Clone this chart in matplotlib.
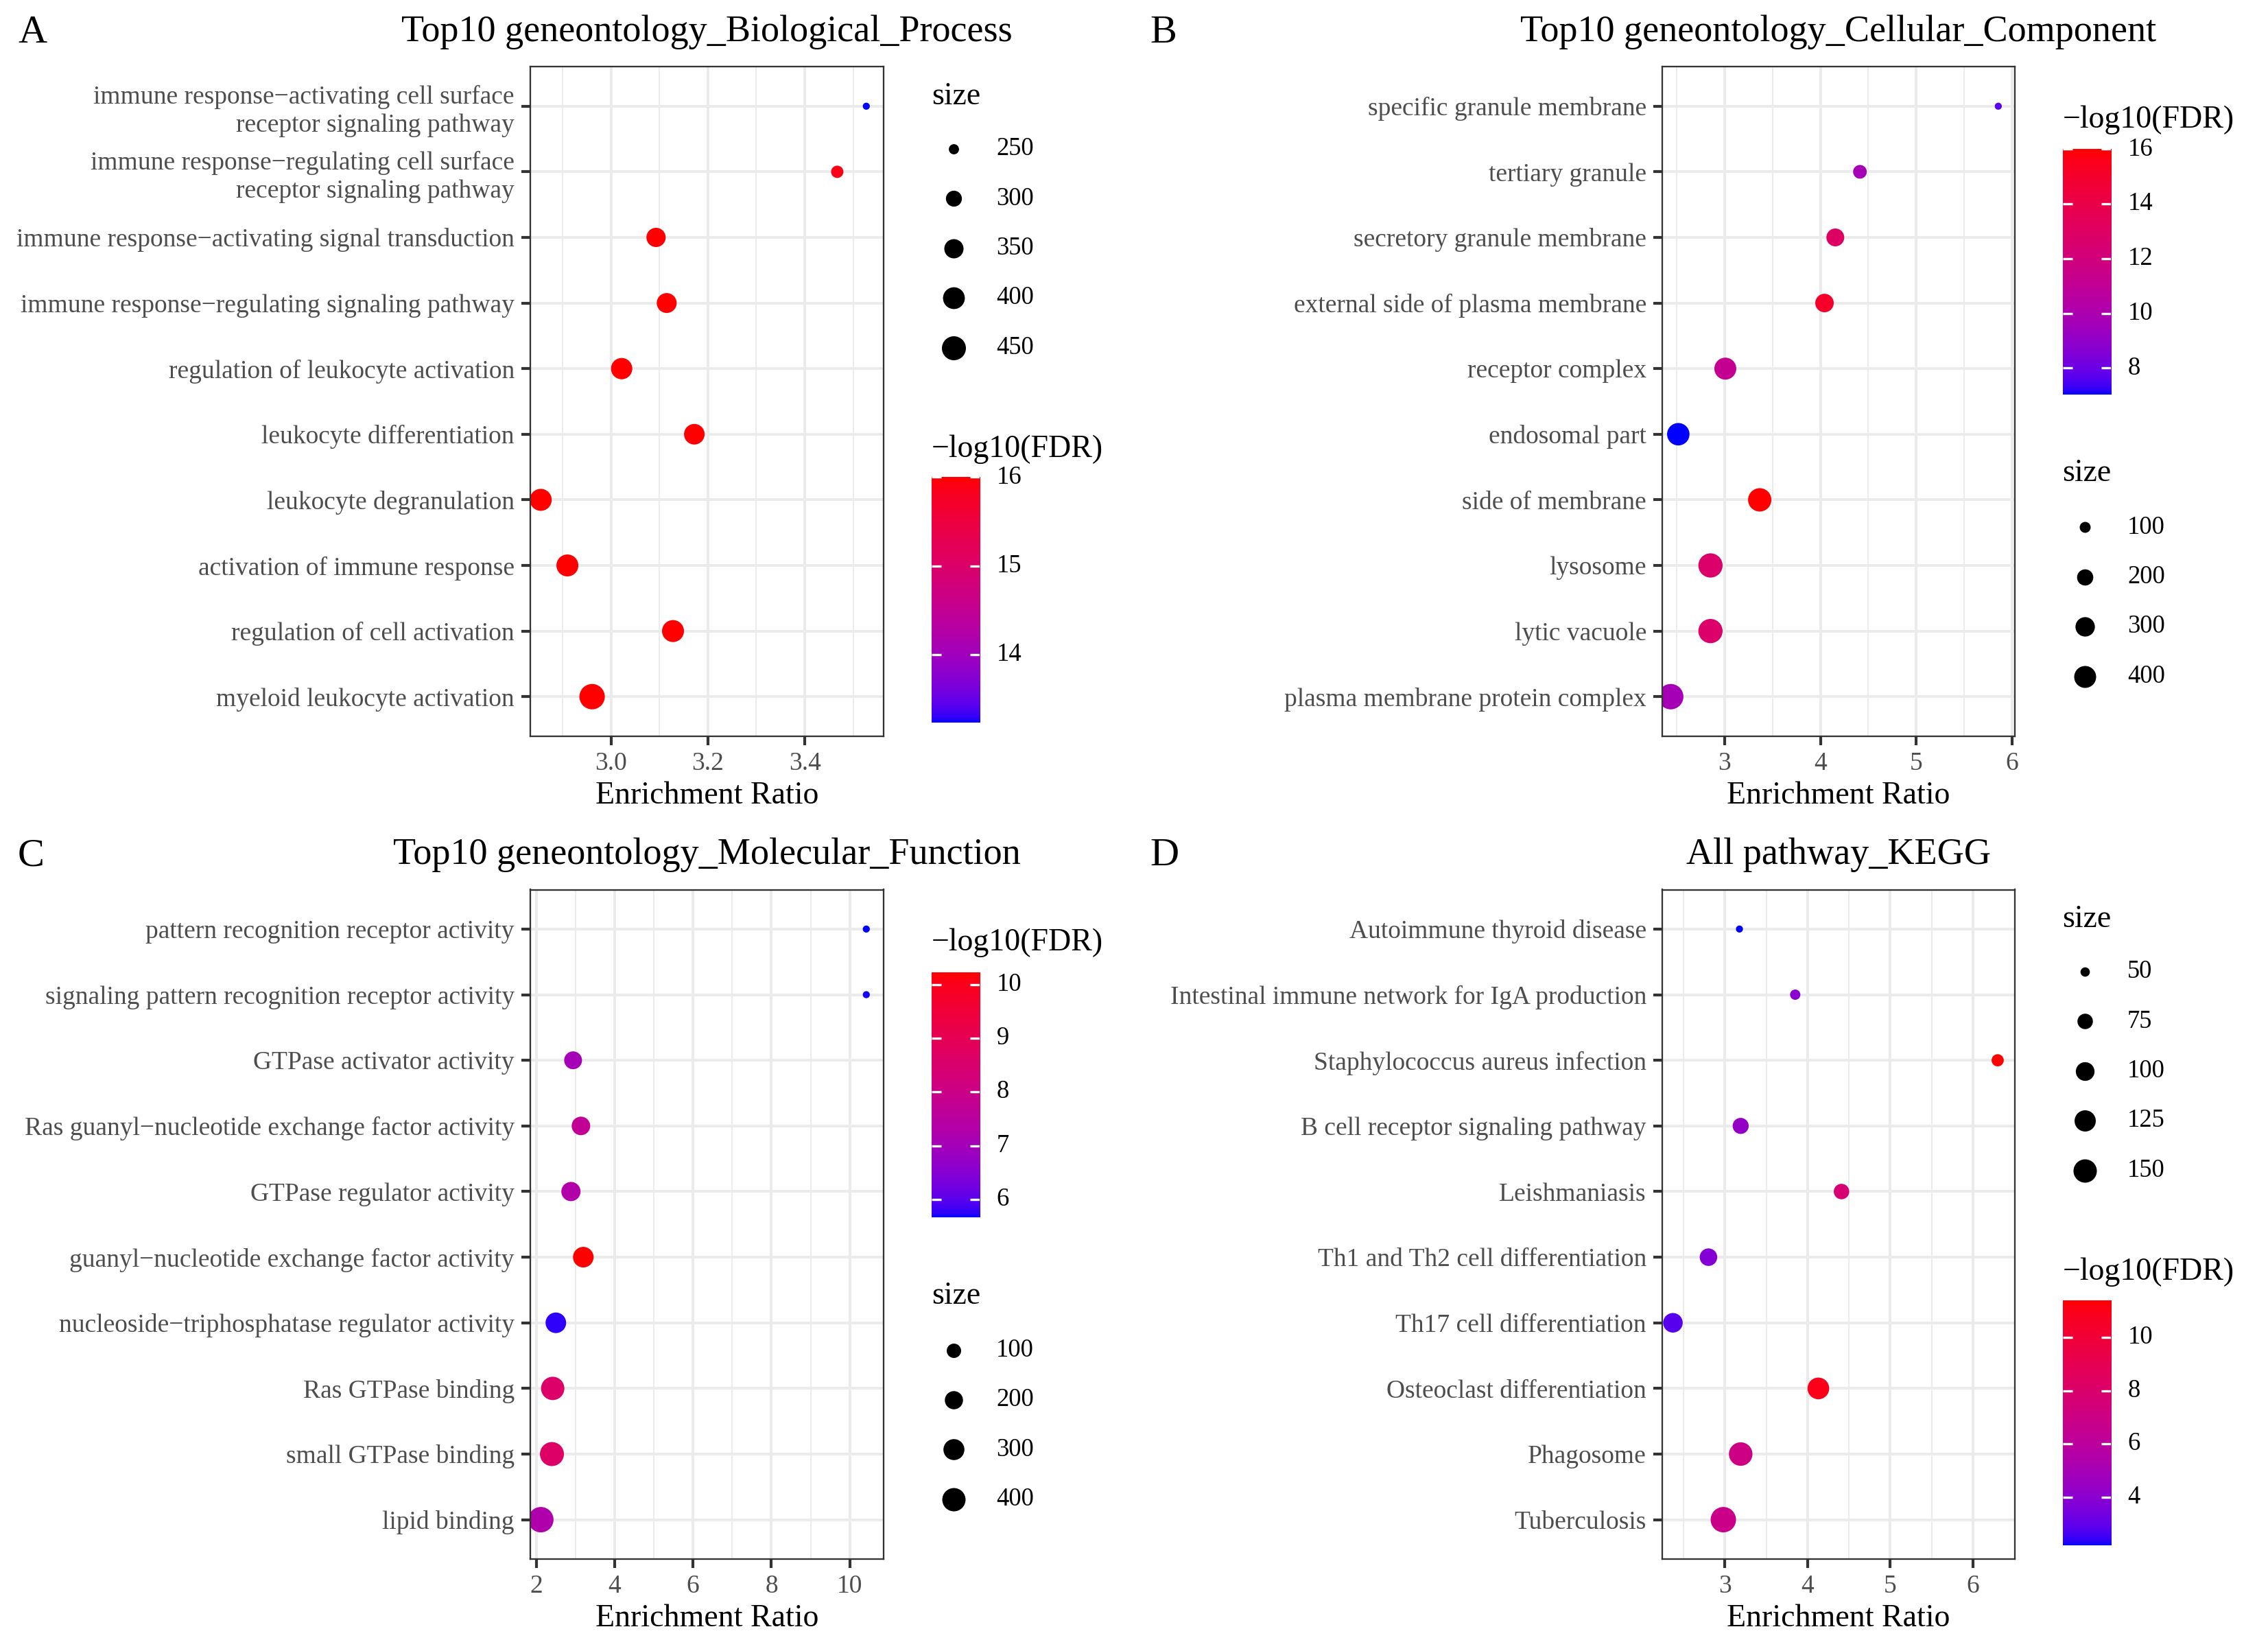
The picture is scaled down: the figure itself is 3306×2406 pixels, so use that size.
import numpy as np
import matplotlib
matplotlib.use("Agg")
import matplotlib.pyplot as plt
from matplotlib.lines import Line2D

plt.rcParams['font.family'] = ['Liberation Serif', 'DejaVu Serif']

# ---------------- data ----------------
terms_A = ["immune response\u2212activating cell surface\nreceptor signaling pathway",
           "immune response\u2212regulating cell surface\nreceptor signaling pathway",
           "immune response\u2212activating signal transduction",
           "immune response\u2212regulating signaling pathway",
           "regulation of leukocyte activation",
           "leukocyte differentiation",
           "leukocyte degranulation",
           "activation of immune response",
           "regulation of cell activation",
           "myeloid leukocyte activation"]
ratio_A = [3.527, 3.467, 3.093, 3.115, 3.022, 3.172, 2.855, 2.910, 3.128, 2.961]
size_A = [243, 263, 350, 362, 389, 375, 403, 403, 403, 485]
fdr_A = [13.23, 15.9, 16.0, 16.0, 16.0, 16.0, 16.0, 16.0, 16.0, 16.0]

terms_B = ["specific granule membrane", "tertiary granule", "secretory granule membrane",
           "external side of plasma membrane", "receptor complex", "endosomal part",
           "side of membrane", "lysosome", "lytic vacuole", "plasma membrane protein complex"]
ratio_B = [5.857, 4.413, 4.156, 4.043, 3.008, 2.517, 3.367, 2.853, 2.853, 2.438]
size_B = [78, 142, 247, 268, 400, 421, 463, 506, 506, 566]
fdr_B = [7.7, 9.7, 13.0, 15.1, 11.2, 7.02, 16.0, 12.7, 12.7, 9.7]

terms_C = ["pattern recognition receptor activity",
           "signaling pattern recognition receptor activity",
           "GTPase activator activity",
           "Ras guanyl\u2212nucleotide exchange factor activity",
           "GTPase regulator activity",
           "guanyl\u2212nucleotide exchange factor activity",
           "nucleoside\u2212triphosphatase regulator activity",
           "Ras GTPase binding",
           "small GTPase binding",
           "lipid binding"]
ratio_C = [10.42, 10.42, 2.94, 3.14, 2.885, 3.20, 2.50, 2.42, 2.40, 2.117]
size_C = [24, 24, 189, 211, 234, 284, 284, 400, 433, 502]
fdr_C = [5.66, 5.68, 7.0, 7.7, 7.3, 10.23, 5.75, 8.6, 8.65, 7.26]

terms_D = ["Autoimmune thyroid disease", "Intestinal immune network for IgA production",
           "Staphylococcus aureus infection", "B cell receptor signaling pathway",
           "Leishmaniasis", "Th1 and Th2 cell differentiation", "Th17 cell differentiation",
           "Osteoclast differentiation", "Phagosome", "Tuberculosis"]
ratio_D = [3.175, 3.85, 6.30, 3.19, 4.41, 2.80, 2.37, 4.13, 3.19, 2.98]
size_D = [48, 52, 58, 79, 75, 90, 108, 130, 152, 177]
fdr_D = [2.18, 4.0, 11.40, 4.3, 7.7, 3.8, 2.8, 11.0, 7.0, 6.8]

titles = ["Top10 geneontology_Biological_Process", "Top10 geneontology_Cellular_Component",
          "Top10 geneontology_Molecular_Function", "All pathway_KEGG"]
letters = ["A", "B", "C", "D"]

xticks_A = [3.0, 3.2, 3.4]; xtlab_A = ["3.0", "3.2", "3.4"]; minor_A = [2.9, 3.1, 3.3, 3.5]
xticks_B = [3, 4, 5, 6]; xtlab_B = ["3", "4", "5", "6"]; minor_B = [2.5, 3.5, 4.5, 5.5]
xticks_C = [2, 4, 6, 8, 10]; xtlab_C = ["2", "4", "6", "8", "10"]; minor_C = [3, 5, 7, 9]
xticks_D = [3, 4, 5, 6]; xtlab_D = ["3", "4", "5", "6"]; minor_D = [2.5, 3.5, 4.5, 5.5]

cbticks_A = [14, 15, 16]
cbticks_B = [8, 10, 12, 14, 16]
cbticks_C = [6, 7, 8, 9, 10]
cbticks_D = [4, 6, 8, 10]

sbreaks_A = [250, 300, 350, 400, 450]
sbreaks_B = [100, 200, 300, 400]
sbreaks_C = [100, 200, 300, 400]
sbreaks_D = [50, 75, 100, 125, 150]

# ---------------- helpers ----------------
W, H = 3306, 2406
DPI = 300
fig = plt.figure(figsize=(W / DPI, H / DPI), dpi=DPI)
fig.patch.set_facecolor('white')


def _lin(c):
    c = np.asarray(c, float)
    return np.where(c <= 0.04045, c / 12.92, ((c + 0.055) / 1.055) ** 2.4)


def _gam(c):
    c = np.clip(c, 0, 1)
    return np.where(c <= 0.0031308, 12.92 * c, 1.055 * np.power(c, 1 / 2.4) - 0.055)


_M = np.array([[0.4124564, 0.3575761, 0.1804375],
               [0.2126729, 0.7151522, 0.0721750],
               [0.0193339, 0.1191920, 0.9503041]])
_WP = np.array([0.95047, 1.0, 1.08883])
_d = 6 / 29


def _f(t):
    return np.where(t > _d ** 3, np.cbrt(t), t / (3 * _d ** 2) + 4 / 29)


def _finv(t):
    return np.where(t > _d, t ** 3, 3 * _d ** 2 * (t - 4 / 29))


def rgb2lab(rgb):
    xyz = _M @ _lin(rgb) / _WP
    fx, fy, fz = _f(xyz)
    return np.array([116 * fy - 16, 500 * (fx - fy), 200 * (fy - fz)])


def lab2rgb(lab):
    L, a, b = lab
    fy = (L + 16) / 116
    fx = fy + a / 500
    fz = fy - b / 200
    xyz = np.array([_finv(fx), _finv(fy), _finv(fz)]) * _WP[:, None]
    rgb = np.linalg.inv(_M) @ xyz
    return _gam(rgb).T


LAB_LO = rgb2lab([0, 0, 1])
LAB_HI = rgb2lab([1, 0, 0])


def ramp(t):
    t = np.clip(np.asarray(t, float), 0, 1)
    lab = LAB_LO[:, None] * (1 - t)[None, :] + LAB_HI[:, None] * t[None, :]
    return lab2rgb(lab)


PX2PT = 72.0 / DPI


def diam_pt(v, vmin, vmax):
    v = np.asarray(v, float)
    t = np.clip((v - vmin) / (vmax - vmin), 0, 1)
    return (10.3 + 26.7 * np.sqrt(t)) * PX2PT


xlims = {"A": (2.833, 3.563), "B": (2.348, 6.03), "C": (1.843, 10.865), "D": (2.239, 6.508)}


def draw_panel(box, terms, ratio, size, fdr, xticks, xtlab, minor, title, letter,
               cbticks, sbreaks, size_first, letter_x):
    x0, y0, x1, y1 = box
    ax = fig.add_axes([x0 / W, 1 - y1 / H, (x1 - x0) / W, (y1 - y0) / H])
    n = len(terms)
    ypos = np.arange(1, n + 1)
    ax.set_xlim(*xlims[letter])
    ax.set_ylim(n + 0.6, 0.4)
    ax.set_xticks(xticks)
    ax.set_xticklabels(xtlab)
    ax.set_xticks(minor, minor=True)
    ax.set_yticks(ypos)
    ax.set_yticklabels(terms, linespacing=1.25, multialignment='right')
    ax.grid(which='major', color='#EBEBEB', lw=0.95)
    ax.grid(which='minor', axis='x', color='#EBEBEB', lw=0.5)
    ax.set_axisbelow(True)
    ax.tick_params(which='minor', length=0)
    ax.tick_params(which='major', length=3.2, width=1.0, color='#333333',
                   labelsize=9, labelcolor='#4D4D4D', pad=2.3)
    for sp in ax.spines.values():
        sp.set_color('#333333')
        sp.set_linewidth(0.55)
        sp.set_zorder(5)

    vmin, vmax = min(fdr), max(fdr)
    cols = ramp((np.array(fdr) - vmin) / (vmax - vmin))
    smin, smax = min(size), max(size)
    ax.scatter(ratio, ypos, s=diam_pt(size, smin, smax) ** 2, c=cols,
               linewidths=0, zorder=3)

    cx = (x0 + x1) / 2
    fig.text(cx / W, 1 - (y0 - 51) / H, title, ha='center', va='center', fontsize=13)
    fig.text(cx / W, 1 - (y1 + 87) / H, "Enrichment Ratio", ha='center', va='center',
             fontsize=11)
    fig.text(letter_x / W, 1 - (y0 - 49.5) / H, letter, ha='left', va='center', fontsize=14)

    R, T = x1, y0
    if size_first:
        s_title = T + 43
        s_dot0 = T + 119.5
        c_title = T + 557
        c_top, c_bot = T + 598, T + 956
    else:
        c_title = T + 77
        c_top, c_bot = T + 120, T + 478
        s_title = T + 592
        s_dot0 = T + 671

    # colour bar
    bx = R + 69.5
    cax = fig.add_axes([bx / W, 1 - c_bot / H, 70.5 / W, (c_bot - c_top) / H])
    grad = ramp(np.linspace(0, 1, 300))[:, None, :]
    cax.imshow(grad, aspect='auto', extent=[0, 1, vmin, vmax], origin='lower',
               interpolation='bilinear')
    cax.set_xlim(0, 1)
    cax.set_ylim(vmin, vmax)
    cax.set_xticks([])
    cax.set_yticks([])
    for sp in cax.spines.values():
        sp.set_visible(False)
    for tv in cbticks:
        cax.plot([0, 0.2], [tv, tv], color='white', lw=0.8, solid_capstyle='butt')
        cax.plot([0.8, 1], [tv, tv], color='white', lw=0.8, solid_capstyle='butt')
        cax.text(1.345, tv, str(tv), ha='left', va='center', fontsize=8.8, clip_on=False)
    fig.text(bx / W, 1 - c_title / H, "\u2212log10(FDR)", ha='left', va='center', fontsize=11)

    # size legend
    fig.text(bx / W, 1 - s_title / H, "size", ha='left', va='center', fontsize=11)
    dsz = diam_pt(sbreaks, smin, smax)
    for i, (bv, dd) in enumerate(zip(sbreaks, dsz)):
        yy = s_dot0 + 72.4 * i
        fig.add_artist(Line2D([(R + 101.5) / W], [1 - yy / H], marker='o', markersize=dd,
                              markerfacecolor='black', markeredgewidth=0, linestyle='none',
                              transform=fig.transFigure))
        fig.text((R + 164) / W, 1 - yy / H, str(bv), ha='left', va='center', fontsize=8.8)
    return ax


boxA = (772.7, 97.4, 1288.2, 1072.6)
boxB = (2422.8, 97.4, 2937.0, 1072.6)
boxC = (772.7, 1296.5, 1288.2, 2272.0)
boxD = (2422.8, 1296.5, 2937.0, 2272.0)

draw_panel(boxA, terms_A, ratio_A, size_A, fdr_A, xticks_A, xtlab_A, minor_A, titles[0], "A",
           cbticks_A, sbreaks_A, True, 26)
draw_panel(boxB, terms_B, ratio_B, size_B, fdr_B, xticks_B, xtlab_B, minor_B, titles[1], "B",
           cbticks_B, sbreaks_B, False, 1676)
draw_panel(boxC, terms_C, ratio_C, size_C, fdr_C, xticks_C, xtlab_C, minor_C, titles[2], "C",
           cbticks_C, sbreaks_C, False, 26)
draw_panel(boxD, terms_D, ratio_D, size_D, fdr_D, xticks_D, xtlab_D, minor_D, titles[3], "D",
           cbticks_D, sbreaks_D, True, 1676)

fig.savefig("out.png", dpi=DPI, facecolor='white')
